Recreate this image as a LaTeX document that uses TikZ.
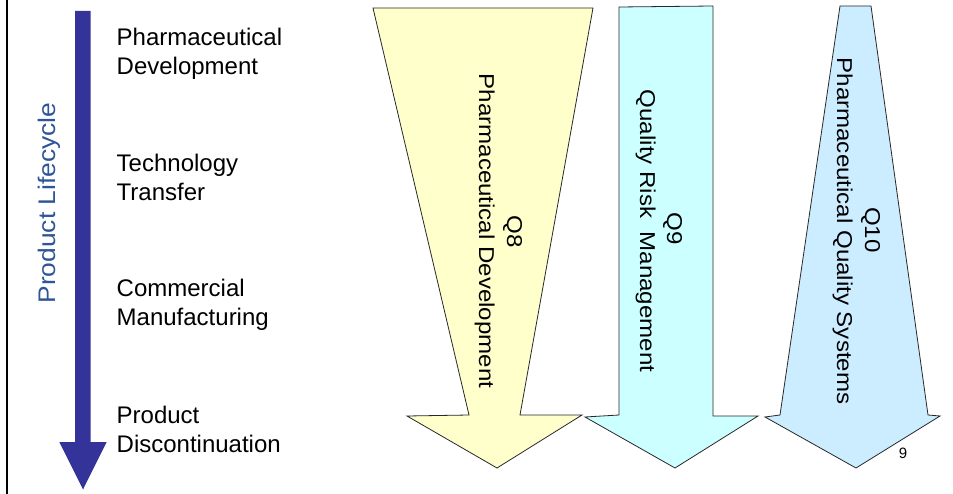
\documentclass[tikz,border=0pt]{standalone}
\usepackage{fontspec}
\setmainfont{Liberation Sans}
\usepackage{graphicx}
\definecolor{lifeblue}{RGB}{51,51,153}
\definecolor{lifetext}{RGB}{47,85,151}
\definecolor{qeight}{RGB}{255,255,204}
\definecolor{qnine}{RGB}{204,255,255}
\definecolor{qten}{RGB}{204,236,255}
\definecolor{edgegray}{RGB}{40,40,40}
\begin{document}
\begin{tikzpicture}[x=1pt,y=-1pt,
  stage/.style={anchor=base west,inner sep=0pt,font=\fontsize{24}{29}\selectfont},
  guide/.style={draw=edgegray,line width=0.8pt,line join=miter},
  guidetext/.style={anchor=base,inner sep=0pt,rotate=-90,font=\fontsize{21.5}{26}\selectfont},
  axislabel/.style={anchor=base,inner sep=0pt,rotate=90,text=lifetext,font=\fontsize{24}{29}\selectfont}]
\useasboundingbox (0,0) rectangle (953,494);
\fill[white] (0,0) rectangle (953,494);

% frame line at the left edge
\draw[line width=2pt,black] (7,0) -- (7,494);

% product lifecycle arrow
\fill[lifeblue] (75,11) -- (90.7,11) -- (90.7,442) -- (106.7,442) -- (83,489.5)
  -- (59.3,442) -- (75,442) -- cycle;
\node[axislabel] (life) at (55,203) {\scalebox{1.1}[1]{Product Lifecycle}};

% lifecycle stages
\newcommand\twolines[2]{\begin{tabular}[t]{@{}l@{}}#1\\#2\end{tabular}}
\node[stage] (s1) at (116.5,46) {\twolines{Pharmaceutical}{Development}};
\node[stage] (s2) at (116.5,172) {\twolines{Technology}{Transfer}};
\node[stage] (s3) at (116.5,297) {\twolines{Commercial}{Manufacturing}};
\node[stage] (s4) at (116.5,423) {\twolines{Product}{Discontinuation}};

% Q8 guideline arrow
\filldraw[guide,fill=qeight] (373,8) -- (593,8) -- (520,415) -- (582,415) -- (497,468)
  -- (407,416) -- (469,415) -- cycle;
\node[guidetext] (q8a) at (507,232) {\scalebox{1.12}[1]{Q8}};
\node[guidetext] (q8b) at (479,231) {\scalebox{1.12}[1]{Pharmaceutical Development}};

% Q9 guideline arrow
\filldraw[guide,fill=qnine] (619,7) -- (713,6) -- (713,416) -- (758,416) -- (675,468)
  -- (585,417) -- (619,415) -- cycle;
\node[guidetext] (q9a) at (667,229) {\scalebox{1.12}[1]{Q9}};
\node[guidetext] (q9b) at (640,231) {\scalebox{1.12}[1]{Quality Risk\ \ Management}};

% Q10 guideline arrow
\filldraw[guide,fill=qten] (840,6) -- (871,6) -- (928,415) -- (940,416) -- (856,468)
  -- (765,417) -- (780,415) -- cycle;
\node[guidetext] (q10a) at (865,230) {\scalebox{1.12}[1]{Q10}};
\node[guidetext] (q10b) at (837,231) {\scalebox{1.12}[1]{Pharmaceutical Quality Systems}};

% page number
\node[anchor=base,inner sep=0pt,font=\fontsize{15}{18}\selectfont] (page) at (903,458) {9};
\end{tikzpicture}
\end{document}
